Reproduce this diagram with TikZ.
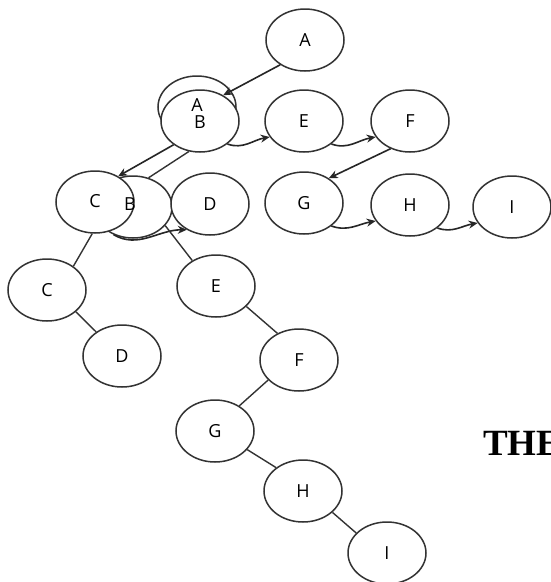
\documentclass[tikz,border=0pt]{standalone}
\usepackage{fontspec}
\setmainfont{Open Sans}
\newfontfamily\thefont{Liberation Serif}
\usetikzlibrary{shapes.geometric,arrows.meta}
\begin{document}
\begin{tikzpicture}[x=1pt,y=-1pt,
  nd/.style={ellipse,draw=black!80,line width=1.5pt,fill=white,minimum width=78pt,minimum height=62pt,inner sep=0pt,font=\fontsize{18}{20}\selectfont},
  lbl/.style={inner sep=0pt,font=\fontsize{18}{20}\selectfont},
  arr/.style={line width=1.6pt,draw=black!85,-{Stealth[length=9pt,width=8pt]}},
  ln/.style={line width=1.4pt,draw=black!80}]
\useasboundingbox[fill=white] (0,0) rectangle (550,582);
% top row
\node[nd] (tAb) at (197,107) {};
\node[nd] (tB) at (200,121) {};
\node[lbl] (tAt) at (197,105) {A};
\node[lbl] (tBt) at (200,122) {B};
\node[nd] (tA) at (305,40) {A};
\node[nd] (tE) at (304,121) {E};
\node[nd] (tF) at (410,121) {F};
\node[nd] (tG) at (304,203) {G};
\node[nd] (tH) at (410,205) {H};
\node[nd] (tI) at (512,207) {I};
% second row
\node[nd] (rB) at (133,207) {};
\node[nd] (rC) at (95,202) {};
\node[lbl] (rCt) at (95,201) {C};
\node[lbl] (rBt) at (130,204) {B};
\node[nd] (rD) at (210,204) {D};
% lower tree
\node[nd] (lC) at (47,290) {C};
\node[nd] (lD) at (122,356) {D};
\node[nd] (lE) at (216,286) {E};
\node[nd] (lF) at (299,360) {F};
\node[nd] (lG) at (215,431) {G};
\node[nd] (lH) at (303,491) {H};
\node[nd] (lI) at (387,553) {I};
% connectors
\draw[arr] (tA.225) -- (tB.48);
\draw[arr] (tB.-40) to[out=-20,in=190] (tE.205);
\draw[arr] (tE.-40) to[out=-20,in=190] (tF.205);
\draw[arr] (tF.235) -- (tG.45);
\draw[arr] (tG.-40) to[out=-20,in=190] (tH.205);
\draw[arr] (tH.-40) to[out=-20,in=190] (tI.205);
\draw[arr] (tB.222) -- (rC.48);
\draw[ln] (tB.250) -- (rB.62);
\draw[arr] (rB.235) to[out=-30,in=180] (rD.228);
\draw[ln] (rB.-30) -- (lE.133);
\draw[ln] (rC.-95) -- (lC.42);
\draw[ln] (lC.-37) -- (lD.137);
\draw[ln] (lE.-34) -- (lF.129);
\draw[ln] (lF.213) -- (lG.46);
\draw[ln] (lG.-30) -- (lH.139);
\draw[ln] (lH.-36) -- (lI.147);
\node[anchor=base west,inner sep=0pt,font=\thefont\bfseries\fontsize{37}{40}\selectfont] (the) at (483,455) {THE};
\end{tikzpicture}
\end{document}
